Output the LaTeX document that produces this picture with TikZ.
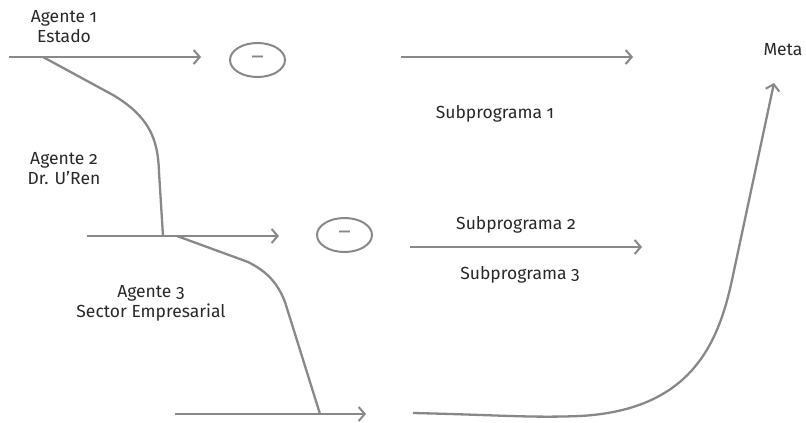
\documentclass[tikz,border=0pt]{standalone}
\usepackage{fontspec}
\setmainfont[Numbers=OldStyle]{Fira Sans}
\usepackage{tikz}
\usetikzlibrary{calc,arrows.meta,positioning,shapes.geometric}
\definecolor{agLine}{RGB}{136,136,136}
\definecolor{agText}{RGB}{40,40,40}

\tikzset{
    flowline/.style={agLine, line width=2.3pt},
    flowarrow/.style={flowline, -{Straight Barb[length=6pt,width=14pt,line width=2pt]}},
    agentlabel/.style={text=agText, align=center, font=\fontsize{17.5}{20}\selectfont},
    sublabel/.style={text=agText, font=\fontsize{17.5}{20}\selectfont},
    minusbox/.style={ellipse, draw=agLine, line width=2pt, minimum width=55pt, minimum height=34pt, inner sep=0pt, text=agLine, font=\fontsize{24}{24}\selectfont}
}

\begin{document}
\begin{tikzpicture}[x=1pt,y=-1pt]
    \useasboundingbox (0,0) rectangle (806,423);

    % =========================
    % Agente 1: Estado
    % =========================
    \node[agentlabel] (ag1) at (64,27) {Agente 1\\Estado};
    \coordinate (a1s) at (9,57);
    \coordinate (a1e) at (201,57);
    \coordinate (a1b) at (43,57);
    \draw[flowarrow] (a1s) -- (a1e);
    \node[minusbox] (m1) at (257.5,60) {--};

    % Subprograma 1
    \coordinate (s1s) at (401,57);
    \coordinate (s1e) at (633,57);
    \draw[flowarrow] (s1s) -- (s1e);
    \node[sublabel] (sub1) at (495,114) {Subprograma 1};

    % =========================
    % Agente 2: Dr. U'Ren
    % =========================
    \node[agentlabel] (ag2) at (64,169) {Agente 2\\Dr. U’Ren};
    \coordinate (a2s) at (87,236);
    \coordinate (a2e) at (279,236);
    \coordinate (a2j) at (163,236);
    \coordinate (a2b) at (177,236);
    \draw[flowarrow] (a2s) -- (a2e);
    \node[minusbox] (m2) at (344.5,235) {--};

    % branch Agente 1 -> Agente 2
    \draw[flowline] (a1b) -- (113,95) .. controls (150,117) and (158,140) .. (159,172) -- (a2j);

    % Subprograma 2 / 3
    \coordinate (s2s) at (410,247);
    \coordinate (s2e) at (642,247);
    \draw[flowarrow] (s2s) -- (s2e);
    \node[sublabel] (sub2) at (516,225) {Subprograma 2};
    \node[sublabel] (sub3) at (520,275) {Subprograma 3};

    % =========================
    % Agente 3: Sector Empresarial
    % =========================
    \node[agentlabel] (ag3) at (151,303) {Agente 3\\Sector Empresarial};
    \coordinate (a3s) at (175,414);
    \coordinate (a3e) at (366,414);
    \coordinate (a3j) at (320,414);
    \draw[flowarrow] (a3s) -- (a3e);

    % branch Agente 2 -> Agente 3
    \draw[flowline] (a2b) -- (248,262) .. controls (268,272) and (278,284) .. (285,302) -- (a3j);

    % =========================
    % Meta
    % =========================
    \node[text=agText, font=\fontsize{17.5}{20}\selectfont] (meta) at (783,50) {Meta};
    \coordinate (gs) at (413,413);
    \coordinate (ge) at (774,83);
    \draw[flowarrow] (gs) .. controls (500,415) and (530,418) .. (580,416)
        .. controls (690,410) and (718,345) .. (732,280) -- (ge);

\end{tikzpicture}
\end{document}
